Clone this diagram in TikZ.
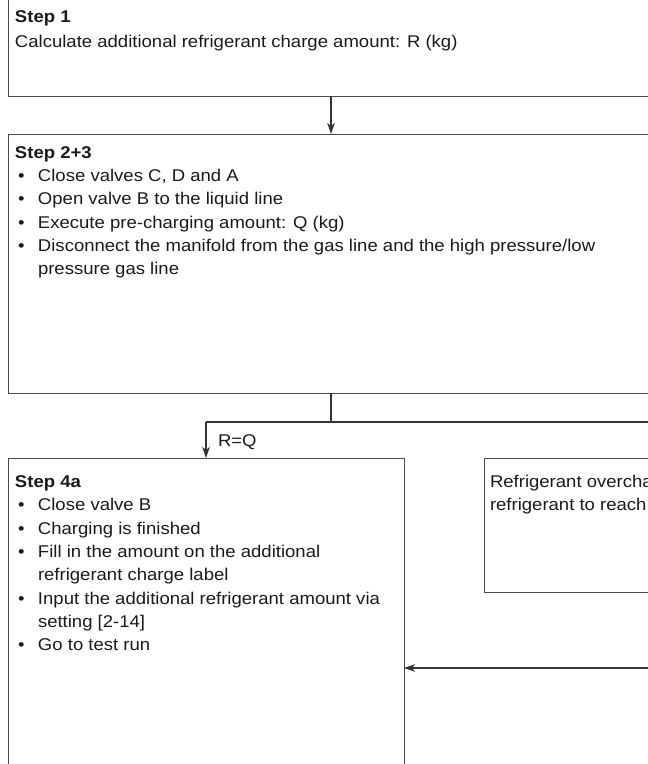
\documentclass[tikz,border=0pt]{standalone}
\usepackage{fontspec}
\setmainfont{Liberation Sans}[FakeStretch=1.09]
\usetikzlibrary{arrows.meta}
\definecolor{linec}{HTML}{333333}
\definecolor{boxc}{HTML}{4A4A4A}
\definecolor{txtc}{HTML}{1A1A1A}
\newcommand\bul{\makebox[23pt][l]{\hspace{3pt}•}}
\tikzset{
  box/.style={draw=boxc, line width=1pt, rectangle, anchor=north west, inner sep=0pt, outer sep=0pt},
  txt/.style={anchor=base west, inner sep=0pt, outer sep=0pt, text=txtc, font=\fontsize{17}{20}\selectfont},
  conn/.style={draw=linec, line width=1.1pt},
  arr/.style={conn, -{Stealth[length=11pt,width=7.5pt,inset=3pt]}},
}
\begin{document}
\begin{tikzpicture}[x=1pt,y=-1pt]
\useasboundingbox (0,0) rectangle (648,764);
\clip (0,0) rectangle (648,764);
% boxes
\node[box, minimum width=700pt, minimum height=106pt] (s1) at (8,-10) {};
\node[box, minimum width=700pt, minimum height=259pt] (s23) at (8,134) {};
\node[box, minimum width=396pt, minimum height=360pt] (s4a) at (8,458) {};
\node[box, minimum width=250pt, minimum height=134pt] (ov) at (484,458) {};
% helper coordinates
\coordinate (jx) at (331,0);
\coordinate (br) at (331,422);
\coordinate (rt) at (700,422);
\coordinate (r2) at (700,668);
% connectors
\draw[arr] (s1.south -| jx) -- (s23.north -| jx);
\draw[conn] (s23.south -| br) -- (br);
\draw[conn] (br -| s4a.north) -- (rt);
\draw[arr] (br -| s4a.north) -- (s4a.north);
\draw[arr] (r2) -- (r2 -| s4a.east);
\node[txt] (rq) at (218,446) {R=Q};
% Step 1 text
\node[txt] (h1) at (15,22) {\textbf{Step 1}};
\node[txt] (l1) at (15,47) {Calculate additional refrigerant charge amount: R (kg)};
% Step 2+3 text
\node[txt] (h2) at (15,158.5) {\textbf{Step 2+3}};
\node[txt] (l2a) at (15,181.7) {\bul Close valves C, D and A};
\node[txt] (l2b) at (15,204.9) {\bul Open valve B to the liquid line};
\node[txt] (l2c) at (15,228.1) {\bul Execute pre-charging amount: Q (kg)};
\node[txt] (l2d) at (15,251.3) {\bul Disconnect the manifold from the gas line and the high pressure/low};
\node[txt] (l2e) at (38,274.5) {pressure gas line};
% Step 4a text
\node[txt] (h4) at (15,487.5) {\textbf{Step 4a}};
\node[txt] (l4a) at (15,510.8) {\bul Close valve B};
\node[txt] (l4b) at (15,534.1) {\bul Charging is finished};
\node[txt] (l4c) at (15,557.4) {\bul Fill in the amount on the additional};
\node[txt] (l4d) at (38,580.7) {refrigerant charge label};
\node[txt] (l4e) at (15,604.0) {\bul Input the additional refrigerant amount via};
\node[txt] (l4f) at (38,627.3) {setting [2-14]};
\node[txt] (l4g) at (15,650.6) {\bul Go to test run};
% right box text
\node[txt] (o1) at (490,487.5) {Refrigerant overcha};
\node[txt] (o2) at (490,510.8) {refrigerant to reach};
\end{tikzpicture}
\end{document}
